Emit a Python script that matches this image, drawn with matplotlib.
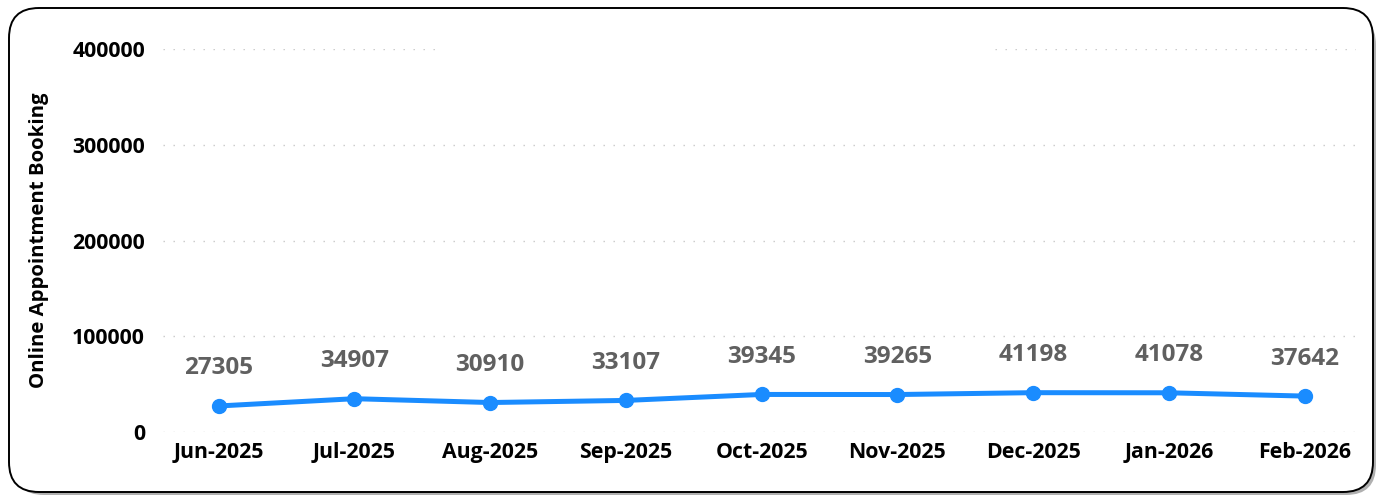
import matplotlib
matplotlib.use("Agg")
import matplotlib.pyplot as plt
from matplotlib.patches import FancyBboxPatch

months = ['Jun-2025', 'Jul-2025', 'Aug-2025', 'Sep-2025', 'Oct-2025',
          'Nov-2025', 'Dec-2025', 'Jan-2026', 'Feb-2026']
bookings = [27305, 34907, 30910, 33107, 39345, 39265, 41198, 41078, 37642]
y_ticks = [0, 100000, 200000, 300000, 400000]

plt.rcParams['font.family'] = ['Open Sans', 'DejaVu Sans']

fig = plt.figure(figsize=(13.81, 4.95), dpi=100)

# rounded card with a shadow
shadow = FancyBboxPatch((0.14, 0.0), 13.62, 4.80, boxstyle="round,pad=0,rounding_size=0.3",
                        transform=fig.dpi_scale_trans, facecolor='#b0b0b0', edgecolor='none', zorder=0)
card = FancyBboxPatch((0.09, 0.03), 13.64, 4.84, boxstyle="round,pad=0,rounding_size=0.3",
                      transform=fig.dpi_scale_trans, facecolor='white', edgecolor='black',
                      linewidth=1.4, zorder=1)
fig.patches.extend([shadow, card])

ax = fig.add_axes([0.118, 0.127, 0.864, 0.774])
ax.set_facecolor('none')
ax.set_zorder(2)

x = range(len(months))
ax.plot(x, bookings, color='#1a8cff', linewidth=3.6, marker='o', markersize=10,
        clip_on=False, zorder=3)

for i, v in enumerate(bookings):
    ax.annotate(str(v), (i, v), xytext=(0, 27), textcoords='offset points',
                ha='center', va='center', fontsize=17.5, fontweight='bold', color='#606060')

ax.set_xlim(-0.41, 8.38)
ax.set_ylim(0, 400000)
ax.set_xticks(list(x))
ax.set_xticklabels(months)
ax.set_yticks(y_ticks)
ax.set_yticklabels([str(t) for t in y_ticks])
ax.tick_params(length=0, labelsize=15.3)
ax.tick_params(axis='y', pad=13)
ax.tick_params(axis='x', pad=7)
for lbl in ax.get_xticklabels() + ax.get_yticklabels():
    lbl.set_fontweight('bold')

for s in ax.spines.values():
    s.set_visible(False)

# dotted gridlines, the top one broken in the middle
for t in y_ticks:
    if t == y_ticks[-1]:
        ax.axhline(t, 0, 0.23, color='#c8c8c8', linewidth=1, linestyle=(0, (1, 6.2)), zorder=1)
        ax.axhline(t, 0.697, 1, color='#c8c8c8', linewidth=1, linestyle=(0, (1, 6.2)), zorder=1)
    else:
        ax.axhline(t, color='#c8c8c8', linewidth=1, linestyle=(0, (1, 6.2)), zorder=1)

ax.set_ylabel('Online Appointment Booking', fontsize=14.7, fontweight='bold')
ax.yaxis.set_label_coords(-0.0956, 0.50)

fig.savefig('out.png', dpi=100)
